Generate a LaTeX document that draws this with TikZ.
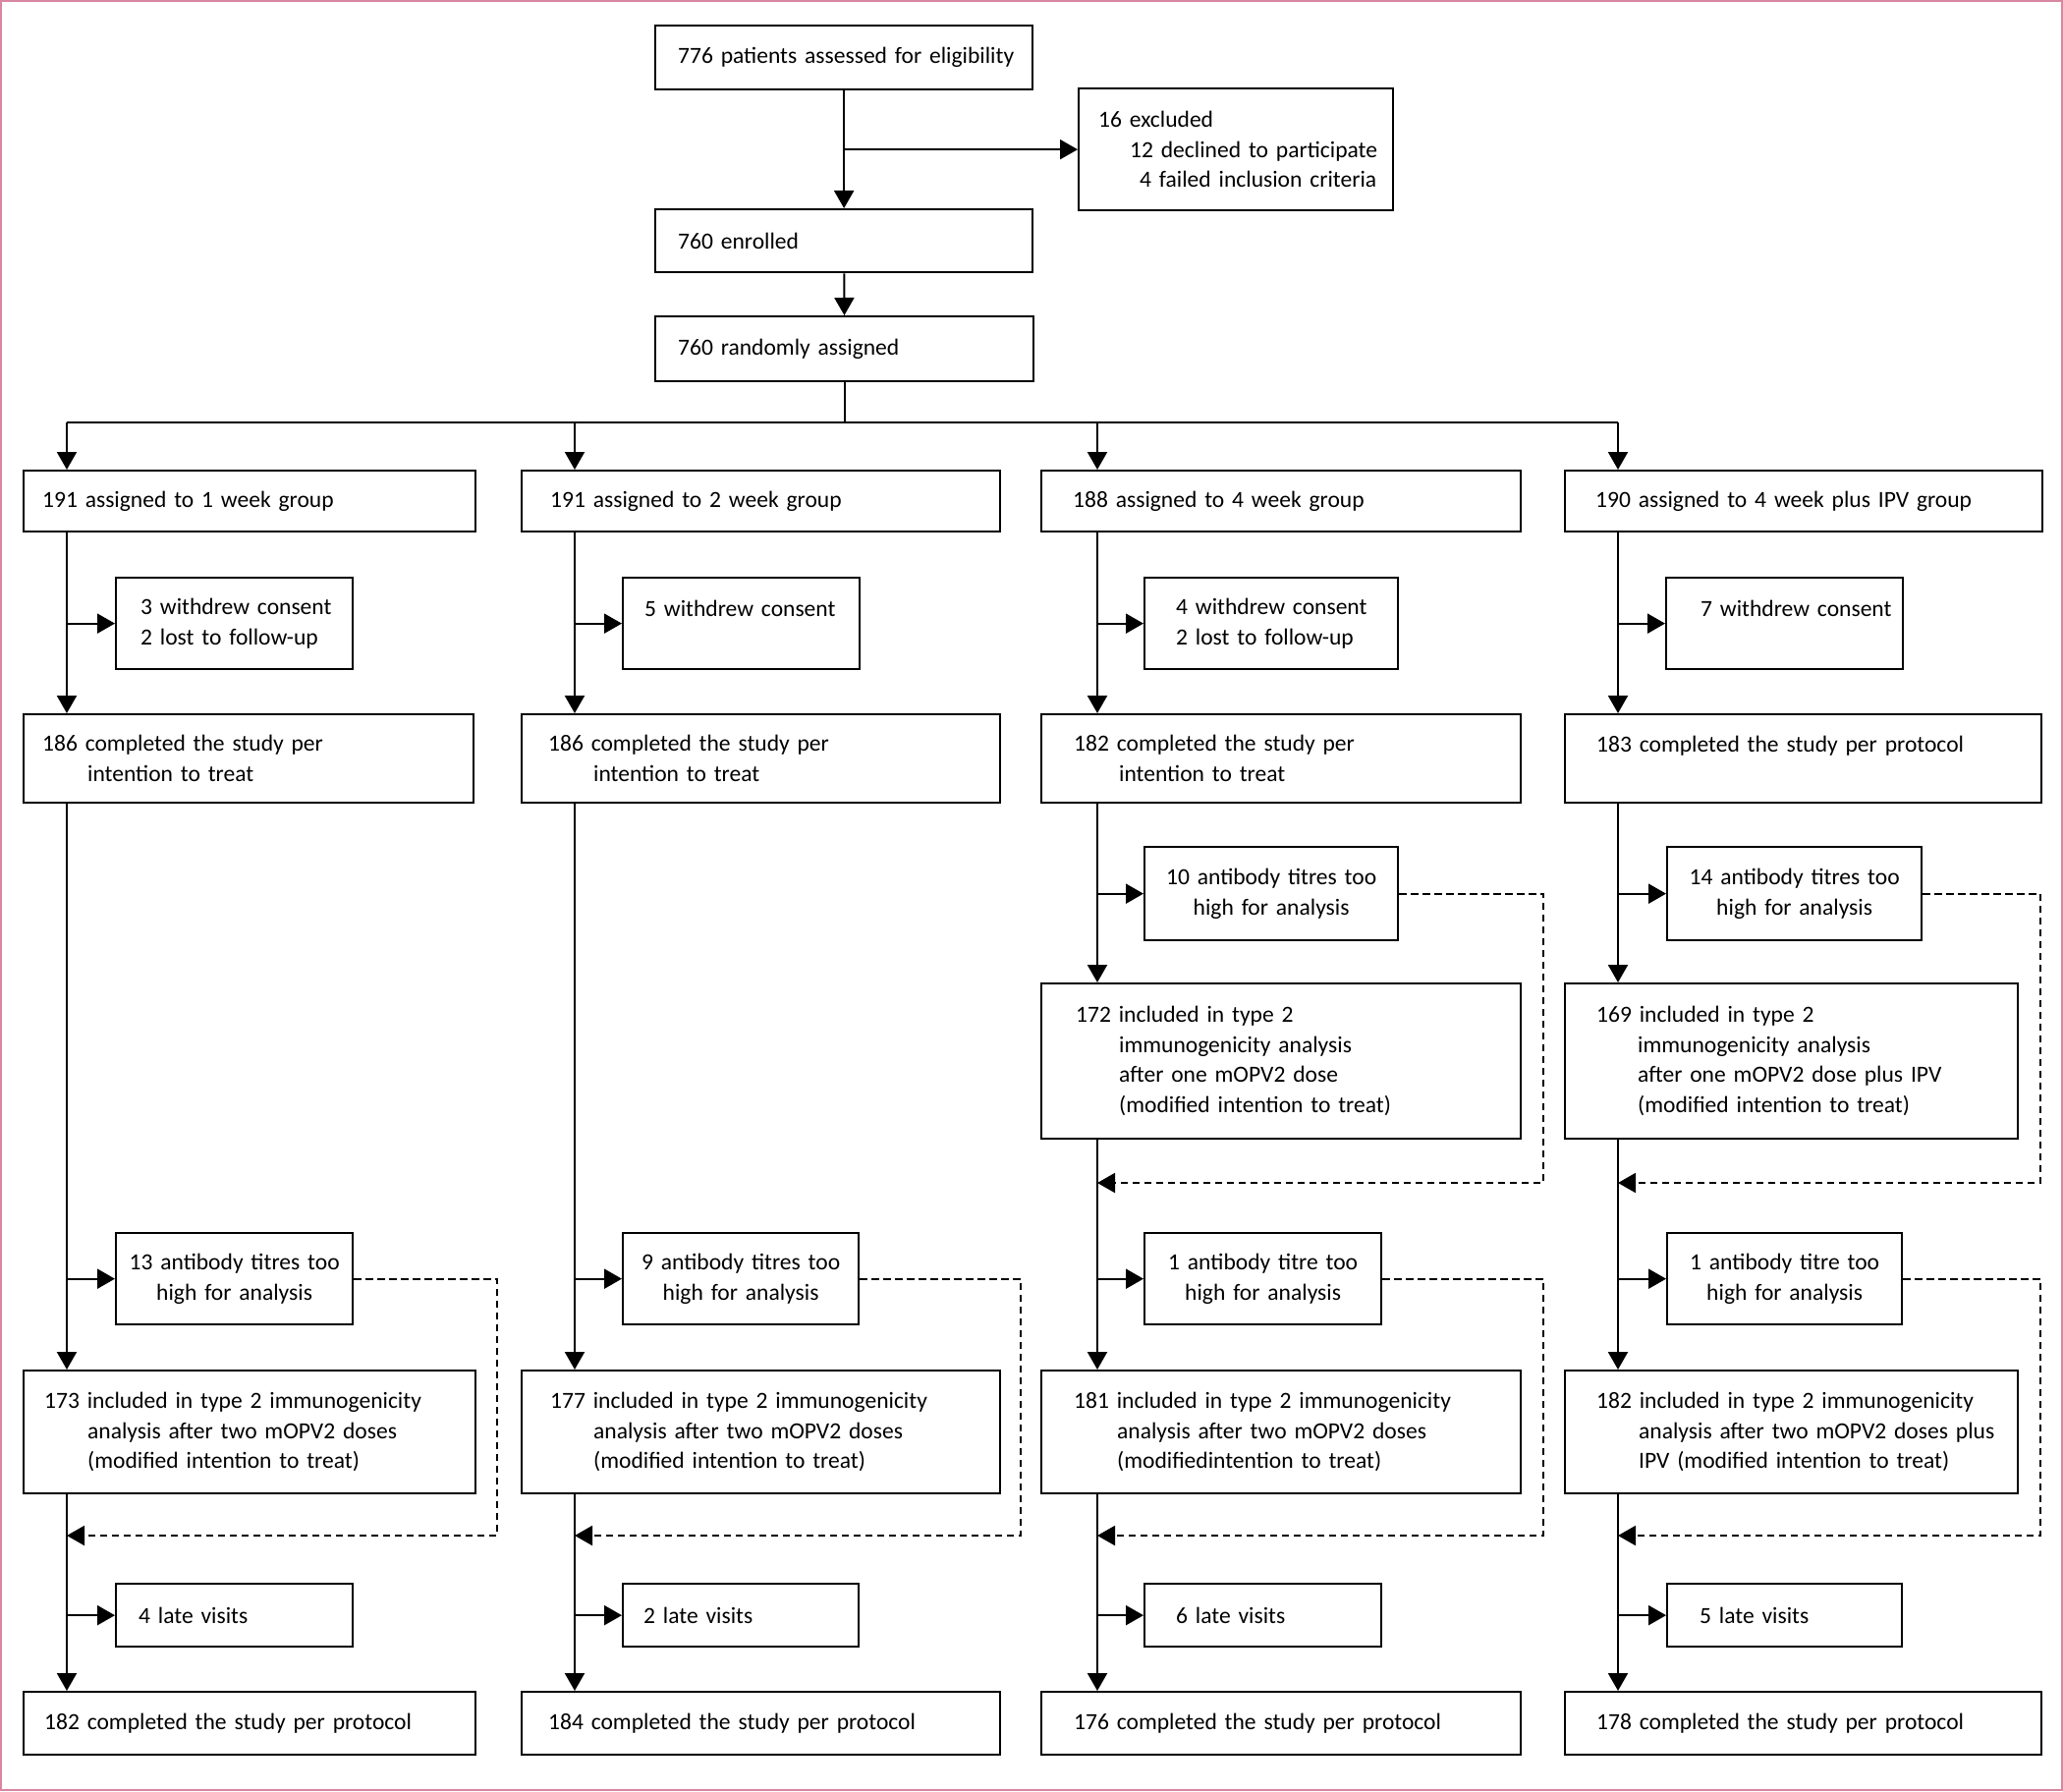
\documentclass[tikz,border=0pt]{standalone}
\usepackage{fontspec}
\setmainfont{Carlito}
\usetikzlibrary{arrows.meta}
\definecolor{frame-pink}{RGB}{217,134,160}
\newdimen\boxunit
\boxunit=0.1mm

\begin{document}
\begin{tikzpicture}[x=0.1mm, y=-0.1mm, font=\fontsize{6.7}{8.7}\selectfont,
  base/.style={draw, line width=0.65pt, anchor=north west, inner sep=0pt},
  box/.style n args={3}{base, minimum height=#2*0.1mm, text width=#1*0.1mm,
    execute at begin node={\leftskip=#3\boxunit\rightskip=0pt plus 1fil}},
  cbox/.style 2 args={base, align=center, minimum height=#2*0.1mm, text width=#1*0.1mm},
  arr/.style={line width=0.6pt, -{Triangle[length=1.8mm, width=2mm]}},
  back/.style={arr, line width=0.55pt, dash pattern=on 0.75mm off 0.45mm}]
\useasboundingbox (0,0) rectangle (2100,1823);
\draw[frame-pink, line width=0.7pt] (1.2,1.2) rectangle (2098.8,1821.8);

% screening
\node[box={384}{65}{23}] (elig) at (666,25) {776 patients assessed for eligibility};
\node[box={320}{124}{20}] (excl) at (1097,89) {16 excluded\\\hspace*{3.2mm}12 declined to participate\\\hspace*{4.2mm}4 failed inclusion criteria};
\node[box={384}{64}{23}] (enrol) at (666,212) {760 enrolled};
\node[box={385}{66}{23}] (rand) at (666,321) {760 randomly assigned};

% groups
\node[box={460}{62}{19}] (g1) at (23,478) {191 assigned to 1 week group};
\node[box={487}{62}{29}] (g2) at (530,478) {191 assigned to 2 week group};
\node[box={488}{62}{32}] (g3) at (1059,478) {188 assigned to 4 week group};
\node[box={486}{62}{31}] (g4) at (1592,478) {190 assigned to 4 week plus IPV group};

\node[box={241}{93}{25}] (w1) at (117,587) {3 withdrew consent\\2 lost to follow-up};
\node[box={241}{93}{22}] (w2) at (633,587) {5 withdrew consent\\\mbox{}};
\node[box={258}{93}{32}] (w3) at (1164,587) {4 withdrew consent\\2 lost to follow-up};
\node[box={241}{93}{35}] (w4) at (1695,587) {7 withdrew consent\\\mbox{}};

\node[box={458}{90}{19}] (i1) at (23,726) {186 completed the study per\\\hspace*{4.6mm}intention to treat};
\node[box={487}{90}{27}] (i2) at (530,726) {186 completed the study per\\\hspace*{4.6mm}intention to treat};
\node[box={488}{90}{33}] (i3) at (1059,726) {182 completed the study per\\\hspace*{4.6mm}intention to treat};
\node[box={485}{90}{32}] (i4) at (1592,726) {183 completed the study per protocol\\\mbox{}};

% one dose
\node[cbox={258}{95}] (a3) at (1164,861) {10 antibody titres too\\high for analysis};
\node[cbox={259}{95}] (a4) at (1696,861) {14 antibody titres too\\high for analysis};

\node[box={488}{158}{35}] (m3) at (1059,1000) {172 included in type 2\\\hspace*{4.4mm}immunogenicity analysis\\\hspace*{4.4mm}after one mOPV2 dose\\\hspace*{4.4mm}(modified intention to treat)};
\node[box={461}{158}{32}] (m4) at (1592,1000) {169 included in type 2\\\hspace*{4.2mm}immunogenicity analysis\\\hspace*{4.2mm}after one mOPV2 dose plus IPV\\\hspace*{4.2mm}(modified intention to treat)};

% two doses
\node[cbox={241}{93}] (b1) at (117,1254) {13 antibody titres too\\high for analysis};
\node[cbox={240}{93}] (b2) at (633,1254) {9 antibody titres too\\high for analysis};
\node[cbox={241}{93}] (b3) at (1164,1254) {1 antibody titre too\\high for analysis};
\node[cbox={239}{93}] (b4) at (1696,1254) {1 antibody titre too\\high for analysis};

\node[box={460}{125}{21}] (t1) at (23,1394) {173 included in type 2 immunogenicity\\\hspace*{4.4mm}analysis after two mOPV2 doses\\\hspace*{4.4mm}(modified intention to treat)};
\node[box={487}{125}{29}] (t2) at (530,1394) {177 included in type 2 immunogenicity\\\hspace*{4.4mm}analysis after two mOPV2 doses\\\hspace*{4.4mm}(modified intention to treat)};
\node[box={488}{125}{33}] (t3) at (1059,1394) {181 included in type 2 immunogenicity\\\hspace*{4.4mm}analysis after two mOPV2 doses\\\hspace*{4.4mm}(modifiedintention to treat)};
\node[box={461}{125}{32}] (t4) at (1592,1394) {182 included in type 2 immunogenicity\\\hspace*{4.3mm}analysis after two mOPV2 doses plus\\\hspace*{4.3mm}IPV (modified intention to treat)};

\node[box={241}{64}{23}] (l1) at (117,1611) {4 late visits};
\node[box={240}{64}{21}] (l2) at (633,1611) {2 late visits};
\node[box={241}{64}{32}] (l3) at (1164,1611) {6 late visits};
\node[box={239}{64}{33}] (l4) at (1696,1611) {5 late visits};

\node[box={460}{64}{21}] (p1) at (23,1721) {182 completed the study per protocol};
\node[box={487}{64}{27}] (p2) at (530,1721) {184 completed the study per protocol};
\node[box={488}{64}{33}] (p3) at (1059,1721) {176 completed the study per protocol};
\node[box={485}{64}{32}] (p4) at (1592,1721) {178 completed the study per protocol};

% column lines, dashed turns and return levels
\coordinate (c1) at (68,0);   \coordinate (c2) at (585,0);
\coordinate (c3) at (1117,0); \coordinate (c4) at (1647,0);
\coordinate (d1) at (506,0);  \coordinate (d2) at (1039,0);
\coordinate (d3) at (1571,0); \coordinate (d4) at (2077,0);
\coordinate (split) at (0,430);
\coordinate (r1) at (0,1204);
\coordinate (r2) at (0,1563);

\draw[arr] (elig) -- (enrol);
\draw[arr] (excl.west -| elig.south) -- (excl.west);
\draw[arr] (enrol) -- (rand);
\draw[line width=0.6pt] (rand.south) -- (rand.south |- split);
\draw[line width=0.6pt] (split -| c1) -- (split -| c4);

\foreach \i in {1,2} {
  \draw[arr] (g\i.south -| c\i) -- (i\i.north -| c\i);
  \draw[arr] (i\i.south -| c\i) -- (t\i.north -| c\i);
}
\foreach \i in {3,4} {
  \draw[arr] (g\i.south -| c\i) -- (i\i.north -| c\i);
  \draw[arr] (i\i.south -| c\i) -- (m\i.north -| c\i);
  \draw[arr] (m\i.south -| c\i) -- (t\i.north -| c\i);
  \draw[arr] (a\i.west -| c\i) -- (a\i.west);
  \draw[back] (a\i.east) -| (d\i |- r1) -- (r1 -| c\i);
}
\foreach \i in {1,...,4} {
  \draw[arr] (split -| c\i) -- (g\i.north -| c\i);
  \draw[arr] (t\i.south -| c\i) -- (p\i.north -| c\i);
  \draw[arr] (w\i.west -| c\i) -- (w\i.west);
  \draw[arr] (b\i.west -| c\i) -- (b\i.west);
  \draw[arr] (l\i.west -| c\i) -- (l\i.west);
  \draw[back] (b\i.east) -| (d\i |- r2) -- (r2 -| c\i);
}
\end{tikzpicture}
\end{document}
